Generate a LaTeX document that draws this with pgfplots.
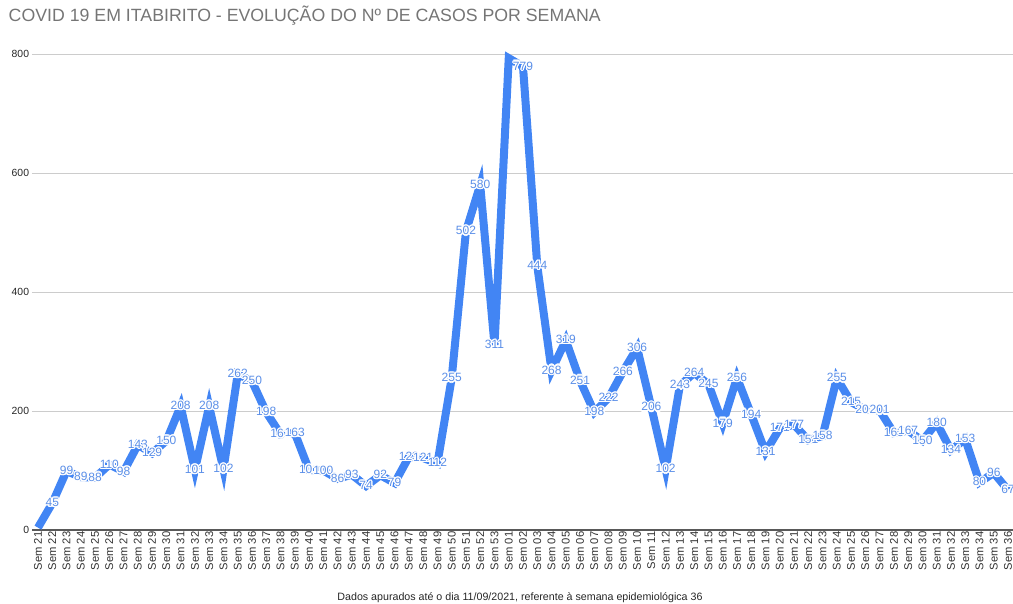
\documentclass[border=0pt]{standalone}
\usepackage{pgfplots}
\pgfplotsset{compat=1.18}
\usepackage{pgfplotstable}
\usepackage{fontspec}
\setmainfont{Liberation Sans}
\usepackage{contour}
\contourlength{0.9pt}
\definecolor{lineblue}{HTML}{4285F4}
\definecolor{lblblue}{HTML}{5B8FE8}
\definecolor{titlegray}{HTML}{757575}
\pgfplotstableread{
x y
0 4
1 45
2 99
3 89
4 88
5 110
6 98
7 143
8 129
9 150
10 208
11 101
12 208
13 102
14 262
15 250
16 198
17 161
18 163
19 101
20 100
21 86
22 93
23 74
24 92
25 79
26 123
27 121
28 112
29 255
30 502
31 580
32 311
33 793
34 779
35 444
36 268
37 319
38 251
39 198
40 222
41 266
42 306
43 206
44 102
45 243
46 264
47 245
48 179
49 256
50 194
51 131
52 171
53 177
54 151
55 158
56 255
57 215
58 202
59 201
60 163
61 167
62 150
63 180
64 134
65 153
66 80
67 96
68 67
}\casos
\begin{document}
\begin{tikzpicture}
\useasboundingbox (-24pt,-54.75pt) rectangle (735.75pt,397.5pt);
\begin{axis}[
  scale only axis,
  width=735.75pt, height=357pt,
  xmin=-0.42, xmax=68.35,
  ymin=0, ymax=800,
  axis x line*=bottom,
  axis y line*=left,
  y axis line style={draw=none},
  x axis line style={draw=black!65, line width=1.1pt, -},
  ytick={0,200,400,600,800},
  ymajorgrids,
  grid style={draw=black!20, line width=0.6pt},
  major tick length=0pt,
  xtick={0,...,68},
  xticklabels={Sem 21,Sem 22,Sem 23,Sem 24,Sem 25,Sem 26,Sem 27,Sem 28,Sem 29,Sem 30,Sem 31,Sem 32,Sem 33,Sem 34,Sem 35,Sem 36,Sem 37,Sem 38,Sem 39,Sem 40,Sem 41,Sem 42,Sem 43,Sem 44,Sem 45,Sem 46,Sem 47,Sem 48,Sem 49,Sem 50,Sem 51,Sem 52,Sem 53,Sem 01,Sem 02,Sem 03,Sem 04,Sem 05,Sem 06,Sem 07,Sem 08,Sem 09,Sem 10,Sem 11,Sem 12,Sem 13,Sem 14,Sem 15,Sem 16,Sem 17,Sem 18,Sem 19,Sem 20,Sem 21,Sem 22,Sem 23,Sem 24,Sem 25,Sem 26,Sem 27,Sem 28,Sem 29,Sem 30,Sem 31,Sem 32,Sem 33,Sem 34,Sem 35,Sem 36},
  xticklabel style={rotate=90, anchor=east, font=\fontsize{8.4}{9}\selectfont, text=black!80, inner sep=1pt},
  yticklabel style={font=\fontsize{7.8}{8}\selectfont, text=black!85, inner sep=2pt},
  /pgf/number format/assume math mode=true,
  clip=false,
]
\addplot[lineblue, line width=6pt, line join=miter, miter limit=10, no marks] table[x=x,y=y] {\casos};
\addplot[draw=none, no marks,
  skip coords between index={0}{1},
  skip coords between index={33}{34},
  nodes near coords={\contour{white}{\pgfmathprintnumber{\pgfplotspointmeta}}},
  every node near coord/.style={anchor=center, inner sep=0pt, font=\fontsize{9}{10}\selectfont, text=lblblue},
] table[x=x,y=y] {\casos};
\end{axis}
\node[anchor=west, font=\fontsize{13.3}{15}\selectfont, text=titlegray] at (-21pt,386pt) {COVID 19 EM ITABIRITO - EVOLUÇÃO DO Nº DE CASOS POR SEMANA};
\node[font=\fontsize{8}{9}\selectfont, text=black!85] at (366pt,-50.5pt) {Dados apurados até o dia 11/09/2021, referente à semana epidemiológica 36};
\end{tikzpicture}
\end{document}
